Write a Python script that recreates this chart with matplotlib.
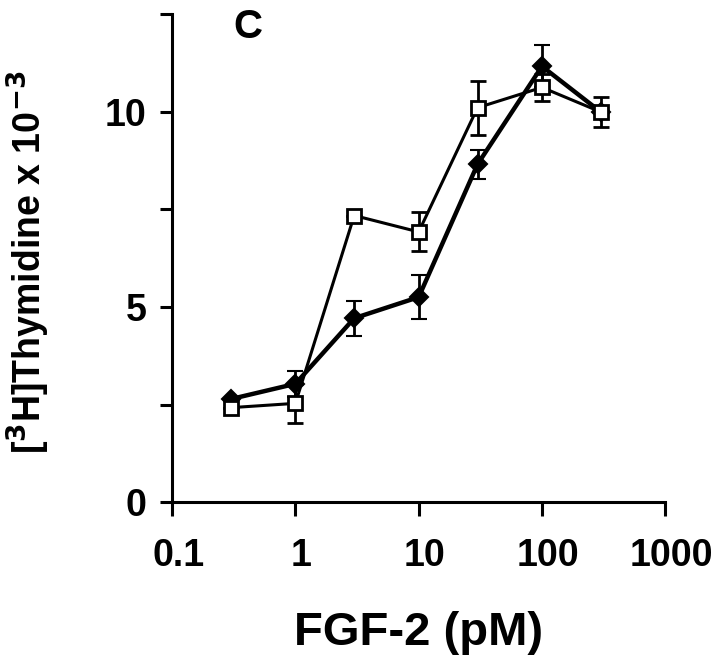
import matplotlib
matplotlib.use('Agg')
import matplotlib.pyplot as plt
import matplotlib.transforms as mtransforms
from matplotlib.ticker import FixedLocator, NullFormatter, NullLocator

plt.rcParams['font.family'] = ['Liberation Sans', 'DejaVu Sans']
plt.rcParams['font.weight'] = 'bold'
plt.rcParams['mathtext.default'] = 'bf'

''' FGF-2 dose response, panel C '''
fgf2 = [0.3, 1, 3, 10, 30, 100, 300]

diamond_y = [2.64, 3.03, 4.71, 5.25, 8.65, 11.16, 9.99]
diamond_err = [0.0, 0.33, 0.45, 0.57, 0.37, 0.54, 0.0]

square_y = [2.42, 2.53, 7.34, 6.92, 10.1, 10.62, 9.99]
square_err = [0.0, 0.5, 0.0, 0.5, 0.69, 0.35, 0.39]

x_ticks = [0.1, 1, 10, 100, 1000]
x_labels = ['0.1', '1', '10', '100', '1000']
y_ticks = [0, 5, 10]

fig = plt.figure(figsize=(7.2, 6.66), dpi=100)
ax = fig.add_axes([0.239, 0.246, 0.685, 0.733])

ax.errorbar(fgf2, diamond_y, yerr=diamond_err, color='black', lw=3.2,
            marker='D', ms=9.5, mfc='black', mec='black', mew=1.5,
            elinewidth=2, capsize=5.5, capthick=2.8, zorder=3)
ax.errorbar(fgf2, square_y, yerr=square_err, color='black', lw=2.2,
            marker='s', ms=10.5, mfc='white', mec='black', mew=2,
            elinewidth=2, capsize=5.5, capthick=2.8, zorder=4)

ax.set_xscale('log')
ax.set_xlim(0.1, 1000)
ax.set_ylim(0, 12.5)
ax.xaxis.set_major_locator(FixedLocator(x_ticks))
ax.xaxis.set_minor_locator(NullLocator())
ax.set_xticklabels(x_labels)
ax.yaxis.set_major_locator(FixedLocator(y_ticks))
ax.yaxis.set_minor_locator(FixedLocator([2.5, 7.5, 12.5]))
ax.yaxis.set_minor_formatter(NullFormatter())

for s in ['top', 'right']:
    ax.spines[s].set_visible(False)
for s in ['left', 'bottom']:
    ax.spines[s].set_linewidth(2.2)

ax.tick_params(axis='both', which='both', direction='out', width=2.2,
               labelsize=27)
ax.tick_params(axis='x', which='major', length=10, pad=16)
ax.tick_params(axis='y', which='both', length=8.6, pad=10)

# tick labels sit a little right of their ticks in the original
shift = mtransforms.ScaledTranslation(6 / 100, 0, fig.dpi_scale_trans)
for lab in ax.get_xticklabels():
    lab.set_transform(lab.get_transform() + shift)

ax.set_xlabel('FGF-2 (pM)', fontsize=34, fontweight='bold')
ax.xaxis.set_label_coords(0.5, -0.222)
ax.set_ylabel(r'[$^3$H]Thymidine x 10$^{-3}$', fontsize=27, fontweight='bold')
ax.yaxis.set_label_coords(-0.243, 0.492)

ax.text(0.315, 12.65, 'C', fontsize=29, fontweight='bold', ha='left', va='top')
for line in ax.get_lines():
    line.set_clip_on(False)

plt.savefig('out.png', dpi=100)
